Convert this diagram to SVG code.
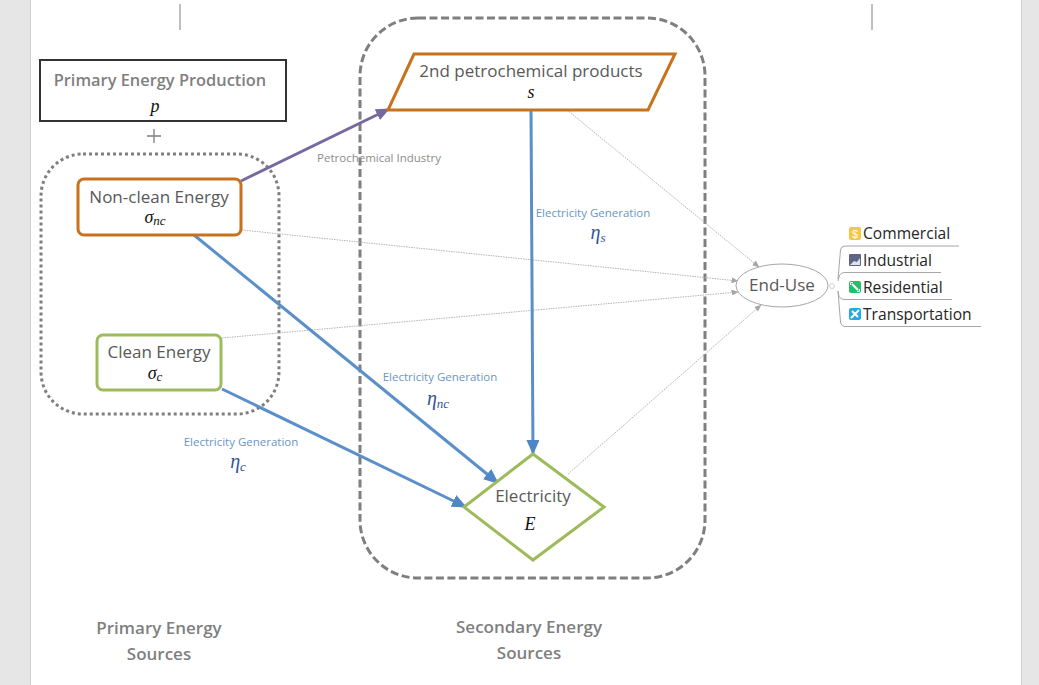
<svg xmlns="http://www.w3.org/2000/svg" width="1039" height="685" viewBox="0 0 1039 685">
<style>
.t{font-family:"Open Sans","Noto Sans","Liberation Sans",sans-serif;fill:#595959;font-size:17px;text-anchor:middle}
.b{font-weight:600;fill:#7f7f7f;font-size:17px}
.m{font-family:"Liberation Serif",serif;font-style:italic;fill:#111;font-size:18px;text-anchor:middle}
.sub{font-size:13px}
.g{font-family:"Open Sans","Noto Sans","Liberation Sans",sans-serif;fill:#6b96c3;font-size:11.500px;text-anchor:middle}
.e{font-family:"Liberation Serif",serif;font-style:italic;fill:#2f5597;font-size:20px;text-anchor:middle}
.l{font-family:"Open Sans","Noto Sans","Liberation Sans",sans-serif;fill:#262626;font-size:15.600px}
.blue{stroke:#5b8fca;stroke-width:3;fill:none}
.thin{stroke:#b5b5b5;stroke-width:1;fill:none;stroke-dasharray:1.500 1}
.br{stroke:#a6a6a6;stroke-width:1;fill:none}
</style>
<defs>
<marker id="ab" markerUnits="userSpaceOnUse" markerWidth="15" markerHeight="13" refX="14" refY="6.500" orient="auto"><path d="M0 0L15 6.500L0 13z" fill="#4f86c6"/></marker>
<marker id="ap" markerUnits="userSpaceOnUse" markerWidth="14" markerHeight="12" refX="13" refY="6" orient="auto"><path d="M0 0L14 6L0 12z" fill="#76699f"/></marker>
<marker id="ag" markerUnits="userSpaceOnUse" markerWidth="7" markerHeight="6" refX="6.500" refY="3" orient="auto"><path d="M0 0L7 3L0 6z" fill="#a6a6a6"/></marker>
</defs>
<rect width="1039" height="685" fill="#e6e6e6"/>
<rect x="31" y="0" width="990" height="685" fill="#fff"/>
<path d="M30.500 0V685M1021.500 0V685" stroke="#cfcfcf" fill="none"/>
<path d="M180 4V30M872 4V30" stroke="#7f7f7f" fill="none"/>
<g id="primary-region"><rect x="41" y="154" width="238" height="260" rx="42" fill="none" stroke="#7f7f7f" stroke-width="3" stroke-dasharray="3 3"/></g>
<g id="secondary-region"><rect x="360" y="18" width="345" height="560" rx="58" fill="none" stroke="#7f7f7f" stroke-width="3" stroke-dasharray="8 3.500"/></g>
<g id="connectors">
<path class="thin" d="M567 110L759 267" marker-end="url(#ag)"/>
<path class="thin" d="M242 230L738 281" marker-end="url(#ag)"/>
<path class="thin" d="M222 338L738 292" marker-end="url(#ag)"/>
<path class="thin" d="M568 474L761 305" marker-end="url(#ag)"/>
<path d="M241 181L389 109" stroke="#76699f" stroke-width="3" fill="none" marker-end="url(#ap)"/>
<path class="blue" d="M531 110L533 454" marker-end="url(#ab)"/>
<path class="blue" d="M194 235L498 483" marker-end="url(#ab)"/>
<path class="blue" d="M222 389L466 507" marker-end="url(#ab)"/>
</g>
<g id="n-primary"><rect x="40" y="60" width="246" height="61" fill="#fff" stroke="#333" stroke-width="2"/><text class="t b" x="160" y="86" style="font-size:16.400px">Primary Energy Production</text><text class="m" x="155" y="112">p</text></g>
<g id="n-plus"><path d="M147 136H161M154 129V143" stroke="#7f7f7f" stroke-width="1.300"/></g>
<g id="n-nonclean"><rect x="78" y="179" width="163" height="56" rx="6" fill="#fff" stroke="#c8731c" stroke-width="3"/><text class="t" x="159" y="203">Non-clean Energy</text><text class="m" x="155" y="223">σ<tspan class="sub" dy="2">nc</tspan></text></g>
<g id="n-clean"><rect x="97" y="335" width="124" height="55" rx="6" fill="#fff" stroke="#9dbb5b" stroke-width="3"/><text class="t" x="159" y="358">Clean Energy</text><text class="m" x="155" y="379">σ<tspan class="sub" dy="2">c</tspan></text></g>
<g id="n-products"><path d="M414 54H675L648 110H388z" fill="#fff" stroke="#c8731c" stroke-width="3"/><text class="t" x="531" y="77">2nd petrochemical products</text><text class="m" x="531" y="98">s</text></g>
<g id="n-electricity"><path d="M533 454L604 507L533 560L464 507z" fill="#fff" stroke="#9dbb5b" stroke-width="3"/><text class="t" x="533" y="502">Electricity</text><text class="m" x="530" y="530">E</text></g>
<g id="n-enduse"><ellipse cx="782" cy="285.500" rx="46" ry="21.500" fill="#fff" stroke="#a6a6a6"/><text class="t" x="782" y="291">End-Use</text></g>
<g id="labels">
<text class="g" x="379" y="162" style="fill:#8c8c8c">Petrochemical Industry</text>
<text class="g" x="593" y="217">Electricity Generation</text><text class="e" x="598" y="239">η<tspan class="sub" dy="3">s</tspan></text>
<text class="g" x="440" y="381">Electricity Generation</text><text class="e" x="438" y="405">η<tspan class="sub" dy="3">nc</tspan></text>
<text class="g" x="241" y="446">Electricity Generation</text><text class="e" x="238" y="468">η<tspan class="sub" dy="3">c</tspan></text>
<text class="t b" x="159" y="634">Primary Energy</text><text class="t b" x="159" y="660">Sources</text>
<text class="t b" x="529" y="633">Secondary Energy</text><text class="t b" x="529" y="659">Sources</text>
</g>
<g id="tree">
<circle cx="832" cy="286" r="2.500" fill="#fff" stroke="#d0d0d0"/>
<path class="br" d="M959 246H845Q841 246 840.500 250L838 279M941 272.500H845Q840 272.500 839 277L838 281M952 299.500H845Q839 299.500 838.500 294L838 291M981 326.500H846Q841 326.500 840.500 322L838 291"/>
<g id="t-commercial"><rect x="849" y="227" width="12" height="13" rx="2" fill="#f3c93f"/><text x="855" y="237.500" text-anchor="middle" font-family="Liberation Sans,sans-serif" font-size="11" fill="#fff">$</text><text class="l" x="863" y="238.500">Commercial</text></g>
<g id="t-industrial"><rect x="849" y="254" width="12" height="12" rx="1" fill="#5e6486"/><path d="M850 265L854 261L857 262L860 258V265z" fill="#dfe0e8"/><text class="l" x="863" y="265.500">Industrial</text></g>
<g id="t-residential"><rect x="849" y="281" width="12" height="12" rx="2" fill="#22c06a"/><path d="M852 284L858 290" stroke="#fff" stroke-width="2"/><path d="M850.500 285V282.500H853M859.500 289V291.500H857" stroke="#fff" fill="none"/><text class="l" x="863" y="292.500">Residential</text></g>
<g id="t-transportation"><rect x="849" y="308" width="12" height="12" rx="2" fill="#25a9e6"/><path d="M851 318L859 310M852 311L858 317" stroke="#fff" stroke-width="2"/><text class="l" x="863" y="319.500">Transportation</text></g>
</g>
</svg>
